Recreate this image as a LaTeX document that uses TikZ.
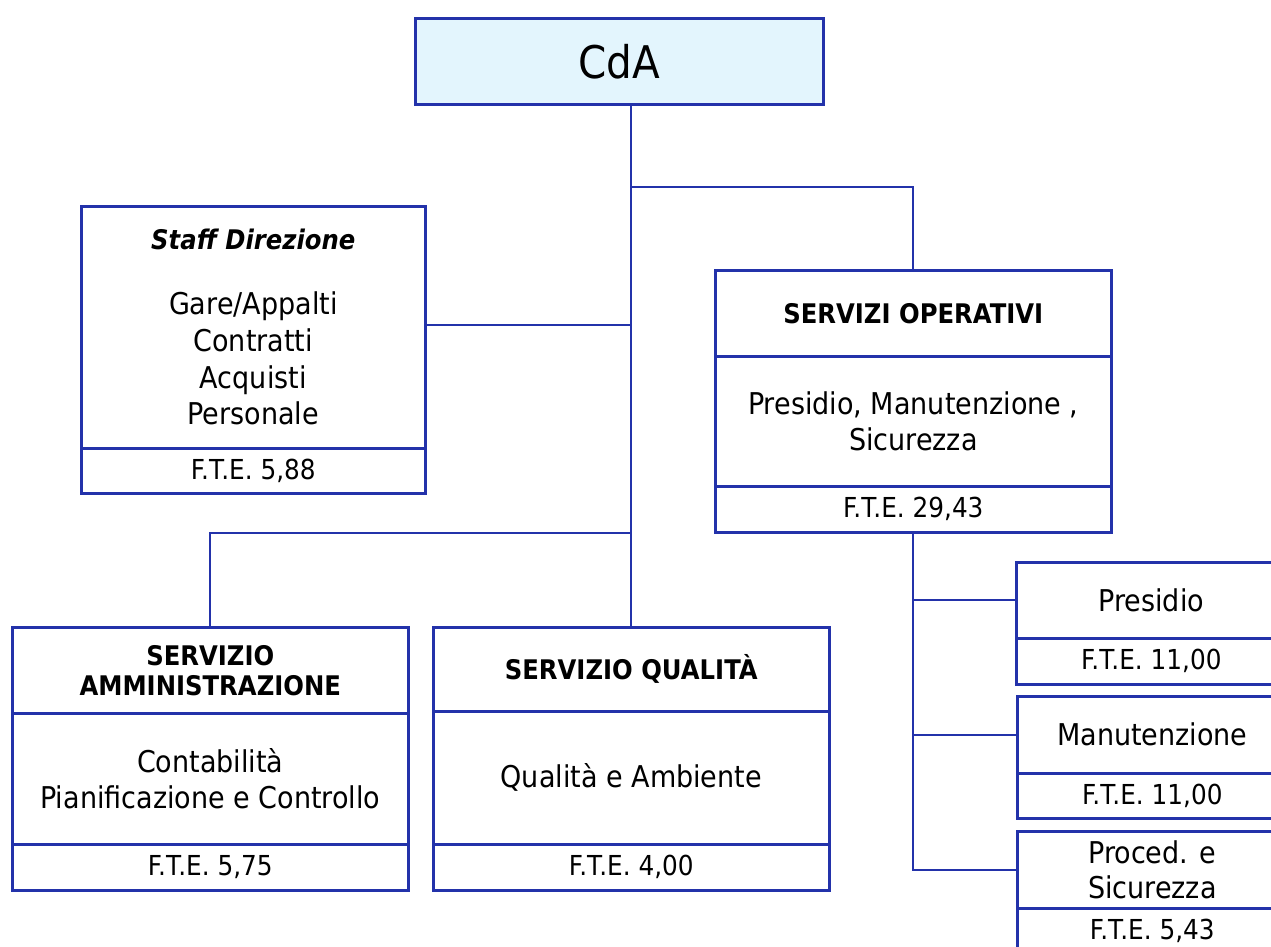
\documentclass[tikz,border=0pt]{standalone}
\usepackage{fontspec}
\setmainfont{DejaVu Sans}[FakeStretch=0.9]
\definecolor{bl}{RGB}{35,50,170}
\definecolor{cdafill}{RGB}{227,245,253}
\tikzset{
  sec/.style={draw=bl, line width=2.6pt, rectangle, inner sep=0pt, anchor=north west, align=center, fill=white},
  conn/.style={draw=bl, line width=2pt},
  bodytxt/.style={font=\fontsize{30}{36.7}\selectfont},
  ttltxt/.style={font=\fontsize{27}{30}\selectfont\bfseries},
  ftetxt/.style={font=\fontsize{27.5}{30}\selectfont},
}
\begin{document}
\begin{tikzpicture}[x=1pt,y=-1pt]
\useasboundingbox (0,0) rectangle (1271,947);
\clip (0,0) rectangle (1271,947);
% CdA
\node[sec, fill=cdafill, minimum width=408, minimum height=86, font=\fontsize{45}{50}\selectfont] (cda) at (414,17) {CdA};
% Staff
\node[sec, bodytxt, minimum width=344, minimum height=242] (staffbody) at (80,205)
  {\fontsize{27}{30}\selectfont\bfseries\itshape Staff Direzione\\[28pt]
   Gare/Appalti\\Contratti\\Acquisti\\Personale};
\node[sec, ftetxt, minimum width=344, minimum height=45] (stafffte) at (80,447) {F.T.E. 5,88};
% Servizi operativi
\node[sec, ttltxt, minimum width=396, minimum height=86] (sotitle) at (714,269) {SERVIZI OPERATIVI};
\node[sec, bodytxt, minimum width=396, minimum height=130] (sobody) at (714,355) {Presidio, Manutenzione ,\\Sicurezza};
\node[sec, ftetxt, minimum width=396, minimum height=46] (softe) at (714,485) {F.T.E. 29,43};
% Amministrazione
\node[sec, ttltxt, minimum width=396, minimum height=86] (admtitle) at (11,626) {SERVIZIO\\AMMINISTRAZIONE};
\node[sec, bodytxt, minimum width=396, minimum height=131] (admbody) at (11,712) {Contabilità\\Pianificazione e Controllo};
\node[sec, ftetxt, minimum width=396, minimum height=46] (admfte) at (11,843) {F.T.E. 5,75};
% Qualita
\node[sec, ttltxt, minimum width=396, minimum height=84] (qualtitle) at (432,626) {SERVIZIO QUALITÀ};
\node[sec, bodytxt, minimum width=396, minimum height=133] (qualbody) at (432,710) {Qualità e Ambiente};
\node[sec, ftetxt, minimum width=396, minimum height=46] (qualfte) at (432,843) {F.T.E. 4,00};
% Right column
\node[sec, bodytxt, minimum width=270, minimum height=76] (prestitle) at (1015,561) {Presidio};
\node[sec, ftetxt, minimum width=270, minimum height=46] (presfte) at (1015,637) {F.T.E. 11,00};
\node[sec, bodytxt, minimum width=270, minimum height=77] (mantitle) at (1016,695) {Manutenzione};
\node[sec, ftetxt, minimum width=270, minimum height=45] (manfte) at (1016,772) {F.T.E. 11,00};
\node[sec, bodytxt, font=\fontsize{30}{35}\selectfont, minimum width=270, minimum height=77] (proctitle) at (1016,830) {Proced. e\\Sicurezza};
\node[sec, ftetxt, minimum width=270, minimum height=46] (procfte) at (1016,907) {F.T.E. 5,43};
% Connectors
\draw[conn] (cda.south -| qualtitle.north) -- (qualtitle.north);
\draw[conn] (qualtitle.north |- 0,187) -| (sotitle.north);
\draw[conn] (staffbody.east |- 0,325) -- (qualtitle.north |- 0,325);
\draw[conn] (admtitle.north) |- (qualtitle.north |- 0,533);
\draw[conn] (softe.south) |- (proctitle.west);
\draw[conn] (softe.south |- prestitle.west) -- (prestitle.west);
\draw[conn] (softe.south |- mantitle.west) -- (mantitle.west);
\end{tikzpicture}
\end{document}
